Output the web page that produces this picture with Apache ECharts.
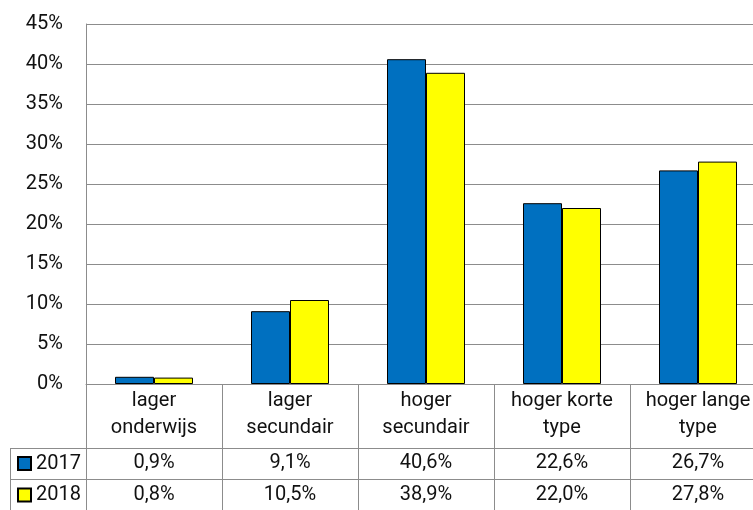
<!DOCTYPE html>
<html>
<head>
<meta charset="utf-8">
<script src="https://cdn.jsdelivr.net/npm/echarts@6/dist/echarts.min.js"></script>
<style>
  html, body { margin: 0; padding: 0; background: #fff; }
  #chart { width: 753px; height: 510px; }
</style>
</head>
<body>
<div id="chart"></div>
<script>
const categories = ["lager\nonderwijs", "lager\nsecundair", "hoger\nsecundair", "hoger korte\ntype", "hoger lange\ntype"];
const seriesNames = ["2017", "2018"];
const values2017 = [0.9, 9.1, 40.6, 22.6, 26.7];
const values2018 = [0.8, 10.5, 38.9, 22.0, 27.8];
const yTicks = { min: 0, max: 45, step: 5 };

const font = "Roboto";
const fontSize = 20;
const textColor = "#111";
const lineColor = "#8c8c8c";
const fmt = (v) => v.toFixed(1).replace(".", ",") + "%";

const chart = echarts.init(document.getElementById("chart"));

// extra x axes act as the rows of the data table
const rowAxis = (values, offset) => ({
	type: "category",
	data: values.map(fmt),
	position: "bottom",
	offset: offset,
	axisLine: { show: false },
	axisTick: { show: false },
	splitLine: { show: false },
	axisLabel: {
		interval: 0,
		margin: 0,
		color: textColor,
		fontFamily: font,
		fontSize: fontSize,
		lineHeight: 22,
	},
});

// one legend per table row so each key sits in its own row
const rowLegend = (name, top) => ({
	orient: "vertical",
	left: 17,
	top: top,
	padding: 0,
	icon: "rect",
	itemWidth: 13,
	itemHeight: 13,
	textStyle: { fontFamily: font, fontSize: fontSize, color: textColor, lineHeight: 20 },
	data: [name],
});

const option = {
	animation: false,
	grid: {
		left: 86,
		top: 24,
		width: 680,
		height: 360,
		containLabel: false,
		outerBoundsMode: "none",
	},
	legend: [rowLegend(seriesNames[0], 453.5), rowLegend(seriesNames[1], 485)],
	xAxis: [
		{
			type: "category",
			data: categories,
			axisLine: { show: true, lineStyle: { color: lineColor, width: 1 } },
			axisTick: { show: true, length: 126, lineStyle: { color: lineColor, width: 1 } },
			axisLabel: {
				interval: 0,
				margin: 3,
				color: textColor,
				fontFamily: font,
				fontSize: fontSize,
				lineHeight: 27,
			},
		},
		rowAxis(values2017, 68),
		rowAxis(values2018, 100),
	],
	yAxis: {
		type: "value",
		min: yTicks.min,
		max: yTicks.max,
		interval: yTicks.step,
		axisLine: { show: true, lineStyle: { color: lineColor, width: 1 } },
		axisTick: { show: false },
		splitLine: { show: true, lineStyle: { color: lineColor, width: 1 } },
		axisLabel: {
			margin: 23,
			color: textColor,
			fontFamily: font,
			fontSize: fontSize,
			formatter: "{value}%",
		},
	},
	series: [
		{
			name: seriesNames[0],
			type: "bar",
			data: values2017,
			barWidth: 39,
			barGap: "0%",
			itemStyle: { color: "#0070C0", borderColor: "#000", borderWidth: 1 },
		},
		{
			name: seriesNames[1],
			type: "bar",
			data: values2018,
			barWidth: 39,
			barGap: "0%",
			itemStyle: { color: "#FFFF00", borderColor: "#000", borderWidth: 1 },
		},
	],
	graphic: [
		{ type: "line", shape: { x1: 10, y1: 448.5, x2: 766, y2: 448.5 }, style: { stroke: lineColor, lineWidth: 1 } },
		{ type: "line", shape: { x1: 10, y1: 479.5, x2: 766, y2: 479.5 }, style: { stroke: lineColor, lineWidth: 1 } },
		{ type: "line", shape: { x1: 10.5, y1: 448, x2: 10.5, y2: 510 }, style: { stroke: lineColor, lineWidth: 1 } },
	],
};

chart.setOption(option);
</script>
</body>
</html>
